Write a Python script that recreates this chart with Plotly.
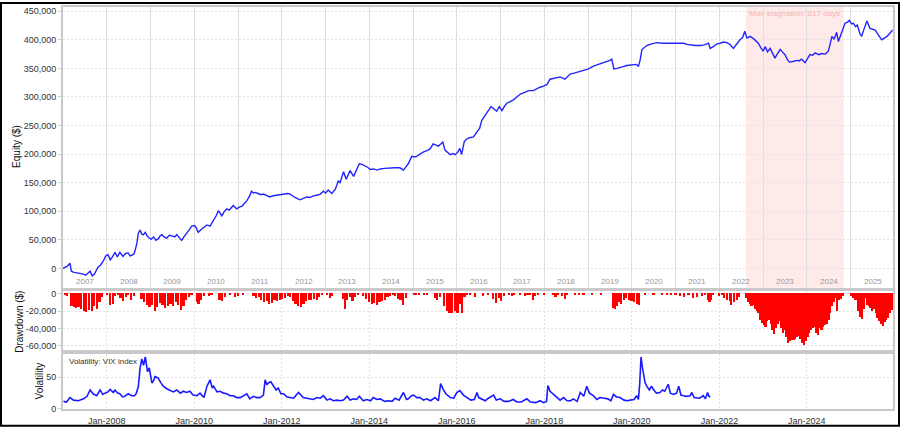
import pandas as pd
import plotly.graph_objects as go

# ---------------- data ----------------
# Equity curve: time as decimal year, value in thousands of $
equity_t = [2007.00, 2007.05, 2007.10, 2007.16, 2007.19, 2007.25, 2007.32, 2007.40, 2007.47, 2007.52,
            2007.58, 2007.62, 2007.67, 2007.72, 2007.80, 2007.86, 2007.93, 2007.98, 2008.03, 2008.08,
            2008.13, 2008.19, 2008.24, 2008.30, 2008.37, 2008.43, 2008.49, 2008.53, 2008.57, 2008.62,
            2008.65, 2008.69, 2008.72, 2008.76, 2008.80, 2008.84, 2008.88, 2008.92, 2008.96, 2009.01,
            2009.07, 2009.12, 2009.18, 2009.22, 2009.26, 2009.31, 2009.37, 2009.43, 2009.49, 2009.55,
            2009.60, 2009.66, 2009.71, 2009.77, 2009.83, 2009.88, 2009.94, 2010.01, 2010.05, 2010.09,
            2010.17, 2010.23, 2010.29, 2010.36, 2010.44, 2010.50, 2010.55, 2010.59, 2010.63, 2010.68,
            2010.74, 2010.80, 2010.89, 2010.93, 2010.97, 2011.03, 2011.09, 2011.15, 2011.20, 2011.26,
            2011.31, 2011.35, 2011.39, 2011.46, 2011.52, 2011.58, 2011.66, 2011.73, 2011.80, 2011.89,
            2011.96, 2012.04, 2012.08, 2012.14, 2012.19, 2012.24, 2012.30, 2012.36, 2012.42, 2012.48,
            2012.57, 2012.64, 2012.72, 2012.80, 2012.88, 2012.95, 2013.00, 2013.06, 2013.14, 2013.22,
            2013.29, 2013.33, 2013.37, 2013.41, 2013.47, 2013.52, 2013.56, 2013.64, 2013.70, 2013.77,
            2013.83, 2013.90, 2013.96, 2014.02, 2014.10, 2014.18, 2014.25, 2014.35, 2014.47, 2014.58,
            2014.70, 2014.78, 2014.84, 2014.89, 2014.97, 2015.03, 2015.08, 2015.16, 2015.24, 2015.32,
            2015.39, 2015.46, 2015.52, 2015.58, 2015.64, 2015.68, 2015.73, 2015.79, 2015.85, 2015.91,
            2015.96, 2016.02, 2016.07, 2016.11, 2016.17, 2016.22, 2016.26, 2016.32, 2016.38, 2016.46,
            2016.52, 2016.57, 2016.62, 2016.67, 2016.73, 2016.78, 2016.85, 2016.91, 2016.97, 2017.03,
            2017.09, 2017.14, 2017.22, 2017.29, 2017.37, 2017.45, 2017.55, 2017.64, 2017.75, 2017.82,
            2017.90, 2017.98, 2018.06, 2018.13, 2018.22, 2018.30, 2018.36, 2018.47, 2018.53, 2018.59,
            2018.70, 2018.82, 2018.92, 2019.01, 2019.12, 2019.20, 2019.27, 2019.35, 2019.43, 2019.50,
            2019.54, 2019.59, 2019.66, 2019.73, 2019.80, 2019.88, 2019.96, 2020.04, 2020.11, 2020.15,
            2020.19, 2020.23, 2020.28, 2020.34, 2020.45, 2020.57, 2020.70, 2020.87, 2021.00, 2021.18,
            2021.26, 2021.33, 2021.45, 2021.56, 2021.66, 2021.75, 2021.79, 2021.86, 2021.95, 2022.02,
            2022.09, 2022.17, 2022.24, 2022.32, 2022.40, 2022.47, 2022.53, 2022.58, 2022.63, 2022.70,
            2022.78, 2022.84, 2022.89, 2022.95, 2023.00, 2023.05, 2023.10, 2023.16, 2023.22, 2023.27,
            2023.33, 2023.39, 2023.45, 2023.50, 2023.55, 2023.60, 2023.68, 2023.77, 2023.82, 2023.88,
            2023.96, 2024.02, 2024.07, 2024.13, 2024.19, 2024.27, 2024.34, 2024.42, 2024.49, 2024.53,
            2024.57, 2024.62, 2024.68, 2024.72, 2024.79, 2024.84, 2024.87, 2024.93, 2024.97, 2025.02,
            2025.06, 2025.11, 2025.15, 2025.21, 2025.25, 2025.31, 2025.37, 2025.44, 2025.50, 2025.56,
            2025.62, 2025.67, 2025.71, 2025.77, 2025.83, 2025.90, 2025.96]
equity_k = [0, 2, 4, 9, -5, -7, -8, -8, -10, -12,
            -8, -5, -13, -10, 2, 6, 14, 22, 24, 15,
            20, 28, 20, 28, 21, 26, 27, 22, 23, 25,
            32, 45, 61, 67, 60, 59, 63, 57, 54, 51,
            55, 49, 52, 57, 59, 55, 53, 58, 57, 55,
            59, 54, 49, 56, 61, 67, 74, 75, 70, 63,
            69, 72, 76, 74, 84, 92, 101, 96, 92, 99,
            104, 102, 110, 107, 104, 107, 109, 114, 118, 126,
            135, 132, 133, 131, 129, 130, 127, 125, 127, 128,
            128, 129, 130, 131, 130, 127, 124, 122, 120, 122,
            125, 124, 127, 128, 130, 135, 132, 137, 131, 138,
            153, 150, 162, 169, 156, 164, 171, 161, 172, 183,
            182, 180, 177, 173, 174, 172, 174, 175, 176, 176,
            176, 172, 178, 183, 196, 195, 196, 200, 204, 206,
            209, 218, 216, 214, 218, 221, 207, 203, 199, 201,
            199, 203, 210, 199, 222, 226, 228, 229, 230, 239,
            245, 259, 265, 272, 278, 283, 279, 275, 283, 276,
            284, 289, 292, 295, 300, 305, 308, 311, 311, 314,
            317, 319, 322, 331, 333, 334, 335, 331, 336, 340,
            342, 345, 347, 349, 354, 356, 359, 361, 363, 364,
            366, 349, 350, 351, 353, 355, 356, 357, 357, 353,
            365, 383, 386, 390, 393, 395, 394, 394, 393, 394,
            392, 391, 390, 390, 391, 394, 385, 388, 393, 394,
            396, 395, 392, 385, 394, 400, 404, 415, 403, 406,
            402, 398, 394, 386, 380, 388, 379, 385, 375, 368,
            376, 383, 378, 374, 366, 361, 362, 364, 363, 366,
            360, 367, 374, 373, 377, 374, 376, 375, 380, 392,
            406, 401, 413, 397, 411, 420, 429, 431, 434, 428,
            429, 423, 426, 411, 406, 420, 433, 420, 419, 417,
            410, 404, 400, 403, 406, 412, 417]

# Drawdown bars: time as decimal year, value in thousands of $
dd_t = [2007.05, 2007.10, 2007.20, 2007.25, 2007.30, 2007.36, 2007.42, 2007.48, 2007.54, 2007.60,
        2007.66, 2007.72, 2007.78, 2007.84, 2007.90, 2008.02, 2008.08, 2008.14, 2008.20, 2008.26,
        2008.32, 2008.38, 2008.44, 2008.50, 2008.56, 2008.62, 2008.80, 2008.86, 2008.92, 2008.98,
        2009.04, 2009.10, 2009.16, 2009.22, 2009.28, 2009.34, 2009.40, 2009.46, 2009.52, 2009.58,
        2009.64, 2009.70, 2009.76, 2009.82, 2009.88, 2009.94, 2010.06, 2010.10, 2010.16, 2010.22,
        2010.34, 2010.40, 2010.58, 2010.64, 2010.70, 2010.82, 2010.94, 2011.00, 2011.12, 2011.36,
        2011.42, 2011.48, 2011.54, 2011.60, 2011.66, 2011.72, 2011.78, 2011.84, 2011.90, 2011.96,
        2012.02, 2012.08, 2012.14, 2012.20, 2012.26, 2012.32, 2012.38, 2012.44, 2012.50, 2012.56,
        2012.62, 2012.68, 2012.74, 2012.80, 2012.86, 2012.92, 2013.04, 2013.10, 2013.16, 2013.40,
        2013.45, 2013.50, 2013.56, 2013.62, 2013.68, 2013.74, 2013.86, 2013.92, 2014.00, 2014.06,
        2014.12, 2014.18, 2014.24, 2014.30, 2014.36, 2014.42, 2014.48, 2014.54, 2014.60, 2014.66,
        2014.72, 2014.78, 2014.84, 2015.02, 2015.08, 2015.14, 2015.26, 2015.32, 2015.50, 2015.56,
        2015.62, 2015.72, 2015.78, 2015.84, 2015.90, 2015.96, 2016.02, 2016.08, 2016.12, 2016.18,
        2016.24, 2016.30, 2016.42, 2016.60, 2016.72, 2016.84, 2016.90, 2016.96, 2017.02, 2017.08,
        2017.20, 2017.26, 2017.32, 2017.44, 2017.56, 2017.62, 2017.68, 2017.74, 2017.80, 2017.86,
        2018.00, 2018.20, 2018.26, 2018.32, 2018.40, 2018.47, 2018.52, 2018.70, 2018.80, 2018.90,
        2019.10, 2019.30, 2019.58, 2019.62, 2019.66, 2019.70, 2019.76, 2019.82, 2019.88, 2019.94,
        2020.00, 2020.06, 2020.12, 2020.16, 2020.30, 2020.50, 2020.70, 2020.80, 2020.90, 2021.00,
        2021.10, 2021.20, 2021.30, 2021.40, 2021.50, 2021.60, 2021.68, 2021.74, 2021.78, 2021.82,
        2021.86, 2022.00, 2022.06, 2022.12, 2022.18, 2022.24, 2022.28, 2022.34, 2022.40, 2022.46,
        2022.62, 2022.66, 2022.70, 2022.74, 2022.78, 2022.82, 2022.86, 2022.90, 2022.94, 2022.98,
        2023.02, 2023.06, 2023.10, 2023.14, 2023.18, 2023.22, 2023.26, 2023.30, 2023.34, 2023.38,
        2023.42, 2023.46, 2023.50, 2023.54, 2023.58, 2023.62, 2023.66, 2023.70, 2023.74, 2023.78,
        2023.82, 2023.86, 2023.90, 2023.94, 2023.98, 2024.02, 2024.06, 2024.10, 2024.14, 2024.18,
        2024.22, 2024.26, 2024.30, 2024.34, 2024.38, 2024.42, 2024.46, 2024.50, 2024.54, 2024.58,
        2024.62, 2024.66, 2024.70, 2024.74, 2024.78, 2024.82, 2025.02, 2025.06, 2025.10, 2025.14,
        2025.18, 2025.22, 2025.26, 2025.30, 2025.34, 2025.38, 2025.42, 2025.46, 2025.50, 2025.54,
        2025.58, 2025.62, 2025.66, 2025.70, 2025.74, 2025.78, 2025.82, 2025.86, 2025.90, 2025.94,
        2025.97]
dd_k = [-2, -3, -15, -16, -17, -16, -18, -20, -21, -19,
        -20, -14, -18, -10, -4, -2, -13, -12, -3, -1,
        -5, -9, -4, -2, -7, -3, -6, -10, -13, -16,
        -13, -20, -16, -11, -13, -17, -14, -12, -15, -10,
        -13, -19, -14, -8, -4, -2, -10, -12, -7, -3,
        -3, -1, -8, -9, -4, -1, -4, -3, -2, -3,
        -5, -4, -8, -10, -9, -12, -11, -8, -9, -7,
        -6, -5, -3, -4, -9, -12, -14, -16, -12, -9,
        -8, -7, -6, -7, -4, -1, -2, -5, -3, -6,
        -18, -7, -4, -9, -4, -1, -3, -6, -10, -12,
        -11, -13, -10, -9, -7, -4, -3, -2, -3, -6,
        -8, -13, -5, -2, -1, -2, -1, -2, -5, -8,
        -4, -14, -20, -22, -23, -20, -22, -12, -23, -4,
        -1, -2, -4, -3, -2, -6, -11, -5, -9, -3,
        -2, -3, -1, -2, -3, -1, -2, -7, -3, -1,
        -1, -2, -4, -1, -3, -6, -2, -1, -1, -2,
        -1, -1, -17, -18, -15, -10, -12, -7, -5, -8,
        -9, -10, -12, -13, -1, -1, -2, -1, -2, -1,
        -3, -4, -2, -5, -4, -3, -1, -8, -10, -7,
        -2, -3, -1, -5, -7, -9, -13, -10, -8, -4,
        -5, -10, -12, -15, -13, -18, -20, -23, -30, -34,
        -36, -39, -32, -30, -35, -42, -47, -40, -35, -32,
        -40, -45, -42, -50, -57, -55, -53, -54, -52, -50,
        -49, -52, -57, -59, -55, -50, -46, -42, -40, -38,
        -45, -48, -40, -42, -38, -36, -35, -30, -23, -15,
        -10, -5, -20, -8, -6, -3, -3, -5, -7, -8,
        -20, -27, -29, -18, -5, -13, -15, -17, -20, -18,
        -22, -28, -32, -35, -37, -33, -30, -28, -22, -19,
        -17]

# Volatility (VIX index): time as decimal year, index value
vix_t = [2007.01, 2007.08, 2007.16, 2007.24, 2007.35, 2007.47, 2007.55, 2007.62, 2007.69, 2007.77,
         2007.85, 2007.91, 2007.96, 2008.03, 2008.08, 2008.15, 2008.19, 2008.25, 2008.30, 2008.36,
         2008.41, 2008.49, 2008.57, 2008.63, 2008.67, 2008.72, 2008.76, 2008.80, 2008.84, 2008.88,
         2008.93, 2008.97, 2009.03, 2009.07, 2009.10, 2009.17, 2009.23, 2009.29, 2009.37, 2009.45,
         2009.52, 2009.60, 2009.68, 2009.75, 2009.82, 2009.90, 2009.97, 2010.06, 2010.13, 2010.22,
         2010.29, 2010.36, 2010.41, 2010.44, 2010.52, 2010.59, 2010.67, 2010.74, 2010.82, 2010.89,
         2010.97, 2011.05, 2011.13, 2011.20, 2011.27, 2011.35, 2011.43, 2011.50, 2011.58, 2011.62,
         2011.66, 2011.69, 2011.75, 2011.81, 2011.87, 2011.92, 2011.98, 2012.04, 2012.12, 2012.19,
         2012.27, 2012.38, 2012.45, 2012.49, 2012.57, 2012.64, 2012.72, 2012.80, 2012.88, 2012.95,
         2013.03, 2013.10, 2013.18, 2013.26, 2013.33, 2013.41, 2013.49, 2013.56, 2013.64, 2013.71,
         2013.77, 2013.86, 2013.94, 2014.03, 2014.09, 2014.17, 2014.25, 2014.35, 2014.44, 2014.52,
         2014.59, 2014.68, 2014.78, 2014.85, 2014.89, 2014.97, 2015.01, 2015.09, 2015.16, 2015.24,
         2015.31, 2015.40, 2015.50, 2015.58, 2015.63, 2015.69, 2015.75, 2015.85, 2015.93, 2016.00,
         2016.07, 2016.15, 2016.23, 2016.32, 2016.40, 2016.46, 2016.50, 2016.57, 2016.65, 2016.72,
         2016.84, 2016.90, 2016.99, 2017.08, 2017.18, 2017.29, 2017.37, 2017.47, 2017.60, 2017.68,
         2017.80, 2017.90, 2017.98, 2018.05, 2018.08, 2018.13, 2018.21, 2018.28, 2018.36, 2018.44,
         2018.52, 2018.60, 2018.66, 2018.75, 2018.82, 2018.90, 2018.97, 2019.03, 2019.12, 2019.20,
         2019.27, 2019.37, 2019.45, 2019.52, 2019.58, 2019.65, 2019.73, 2019.82, 2019.90, 2019.96,
         2020.05, 2020.11, 2020.15, 2020.18, 2020.21, 2020.24, 2020.26, 2020.30, 2020.34, 2020.40,
         2020.45, 2020.49, 2020.56, 2020.64, 2020.70, 2020.75, 2020.83, 2020.88, 2020.95, 2021.02,
         2021.07, 2021.12, 2021.18, 2021.24, 2021.33, 2021.37, 2021.42, 2021.48, 2021.55, 2021.63,
         2021.68, 2021.73, 2021.76, 2021.79]
vix_v = [12, 11, 18, 14, 13, 16, 20, 30, 24, 21,
         30, 23, 25, 27, 31, 26, 30, 25, 24, 19,
         20, 24, 21, 21, 24, 35, 64, 79, 69, 82,
         59, 65, 41, 45, 51, 49, 42, 36, 32, 30,
         27, 30, 25, 28, 26, 28, 22, 21, 25, 18,
         36, 46, 33, 36, 27, 28, 25, 24, 21, 21,
         18, 18, 21, 24, 16, 20, 18, 18, 22, 46,
         38, 41, 43, 36, 30, 33, 24, 24, 19, 18,
         17, 26, 20, 18, 17, 16, 15, 18, 17, 21,
         14, 16, 13, 14, 13, 14, 20, 14, 16, 15,
         20, 13, 15, 13, 18, 15, 16, 12, 13, 12,
         17, 14, 26, 15, 16, 21, 22, 18, 18, 14,
         16, 13, 18, 13, 40, 31, 24, 18, 17, 26,
         29, 22, 18, 14, 15, 26, 18, 16, 13, 17,
         22, 14, 16, 12, 12, 15, 11, 11, 16, 11,
         10, 13, 10, 12, 37, 28, 23, 20, 14, 18,
         13, 13, 16, 12, 26, 20, 36, 25, 21, 15,
         18, 17, 16, 13, 23, 19, 18, 14, 13, 14,
         15, 21, 15, 40, 82, 66, 57, 42, 36, 30,
         36, 31, 25, 26, 30, 28, 39, 25, 23, 25,
         36, 22, 21, 20, 21, 26, 18, 18, 17, 21,
         16, 26, 20, 19]

years = list(range(2007, 2026))
bottom_tick_years = [2008, 2010, 2012, 2014, 2016, 2018, 2020, 2022, 2024]
equity_ticks = [0, 50000, 100000, 150000, 200000, 250000, 300000, 350000, 400000, 450000]
dd_ticks = [0, -20000, -40000, -60000]
dd_tick_labels = ["0", "-20,000", "-40,000", "-60,000"]
vix_ticks = [0, 50]
stagnation_start = "2022-08-10"
stagnation_end = "2024-11-04"
stagnation_label = "Max stagnation: 817 days"
x_start, x_end = "2007-01-01", "2025-12-20"


def to_date(v):
    y = int(v)
    a = pd.Timestamp(year=y, month=1, day=1)
    b = pd.Timestamp(year=y + 1, month=1, day=1)
    return a + (b - a) * (v - y)


eq_x = [to_date(v) for v in equity_t]
eq_y = [v * 1000 for v in equity_k]
dd_x = [to_date(v) for v in dd_t]
dd_y = [v * 1000 for v in dd_k]
vx_x = [to_date(v) for v in vix_t]

FONT = "Liberation Sans, Arial, sans-serif"
FRAME = "#c9c9c9"
GRID = "#e2e2e2"

fig = go.Figure()
fig.add_trace(go.Scatter(x=eq_x, y=eq_y, mode="lines", line=dict(color="#2323ff", width=1.4),
                         xaxis="x", yaxis="y", showlegend=False, hoverinfo="skip"))
fig.add_trace(go.Bar(x=dd_x, y=dd_y, marker=dict(color="#ff0000", line=dict(width=0)),
                     width=14 * 86400000, xaxis="x2", yaxis="y2", showlegend=False))
fig.add_trace(go.Scatter(x=vx_x, y=vix_v, mode="lines", line=dict(color="#1a1aff", width=1.6),
                         xaxis="x3", yaxis="y3", showlegend=False))

common_x = dict(range=[x_start, x_end], showline=True, mirror=True, linecolor=FRAME, linewidth=2,
                zeroline=False, type="date")
top_dom = [0.3015, 1.0]
dd_dom = [0.1463, 0.2929]
vx_dom = [0.0, 0.1365]

fig.update_layout(
    width=900, height=431,
    margin=dict(l=63, r=7, t=5, b=18),
    paper_bgcolor="white", plot_bgcolor="white",
    font=dict(family=FONT, size=9, color="#333333"),
    bargap=0,
    xaxis=dict(common_x, anchor="y", tickvals=[f"{y}-01-01" for y in years], showticklabels=False,
               showgrid=True, gridcolor="#dedede", gridwidth=1, ticks=""),
    xaxis2=dict(common_x, anchor="y2", tickvals=[f"{y}-01-01" for y in bottom_tick_years],
                showticklabels=False, showgrid=True, gridcolor=GRID, griddash="2px,2px", ticks=""),
    xaxis3=dict(common_x, anchor="y3", tickvals=[f"{y}-01-01" for y in bottom_tick_years],
                ticktext=[f"Jan-{y}" for y in bottom_tick_years], showgrid=True, gridcolor=GRID,
                griddash="2px,2px", ticks="outside", ticklen=2, tickcolor="rgba(0,0,0,0)",
                tickfont=dict(size=9, color="#333333")),
    yaxis=dict(domain=top_dom, anchor="x", range=[-34000, 457400], tickvals=equity_ticks,
               ticktext=[f"{v:,}" for v in equity_ticks], showgrid=True, gridcolor=GRID,
               griddash="2px,2px", zeroline=False, showline=True, mirror=True, linecolor=FRAME,
               linewidth=2, ticks="outside", ticklen=3, tickcolor=FRAME),
    yaxis2=dict(domain=dd_dom, anchor="x2", range=[-64900, 2800], tickvals=dd_ticks,
                ticktext=dd_tick_labels, showgrid=True, gridcolor=GRID, griddash="2px,2px",
                zeroline=False, showline=True, mirror=True, linecolor=FRAME, linewidth=2,
                ticks="outside", ticklen=3, tickcolor=FRAME),
    yaxis3=dict(domain=vx_dom, anchor="x3", range=[0, 86.5], tickvals=vix_ticks,
                showgrid=True, gridcolor=GRID, griddash="2px,2px", zeroline=False, showline=True,
                mirror=True, linecolor=FRAME, linewidth=2, ticks="outside", ticklen=3,
                tickcolor=FRAME),
)

# stagnation shading
fig.add_shape(type="rect", xref="x", yref="paper", x0=stagnation_start, x1=stagnation_end,
              y0=top_dom[0], y1=top_dom[1], fillcolor="#ffeaea", line=dict(width=0), layer="below")

anns = []
for y in years:
    anns.append(dict(x=f"{y}-07-02", xref="x", y=0.316, yref="paper", text=str(y), showarrow=False,
                     font=dict(size=8, color="#9a9a9a"), xanchor="center", yanchor="middle"))
anns.append(dict(x=to_date(2023.72), xref="x", y=0.983, yref="paper", text=stagnation_label,
                 showarrow=False, font=dict(size=8, color="#f4b4b4"), xanchor="center",
                 yanchor="middle"))
anns.append(dict(x=(67 - 63) / 830, xref="paper", y=(413 - 365) / 408, yref="paper",
                 text="Volatility: VIX index", showarrow=False, xanchor="left", yanchor="middle",
                 font=dict(size=8, color="#333333")))
anns.append(dict(x=(17 - 63) / 830, xref="paper", y=(413 - 147) / 408, yref="paper",
                 text="Equity ($)", textangle=-90, showarrow=False, xanchor="center",
                 yanchor="middle", font=dict(size=10, color="#111111")))
anns.append(dict(x=(19.5 - 63) / 830, xref="paper", y=(413 - 325) / 408, yref="paper",
                 text="Drawdown ($)", textangle=-90, showarrow=False, xanchor="center",
                 yanchor="middle", font=dict(size=10, color="#111111")))
anns.append(dict(x=(39 - 63) / 830, xref="paper", y=(413 - 385) / 408, yref="paper",
                 text="Volatility", textangle=-90, showarrow=False, xanchor="center",
                 yanchor="middle", font=dict(size=10, color="#111111")))
fig.update_layout(annotations=anns)

# outer black frame
fig.add_shape(type="rect", xref="paper", yref="paper",
              x0=(1 - 63) / 830, x1=(899 - 63) / 830, y0=(413 - 430) / 408, y1=(413 - 1) / 408,
              line=dict(color="black", width=2), fillcolor="rgba(0,0,0,0)", layer="above")

fig.write_html("out.html", config={"displayModeBar": False},
               post_script="document.body.style.margin='0';document.body.style.padding='0';"
                           "document.body.style.overflow='hidden';")
